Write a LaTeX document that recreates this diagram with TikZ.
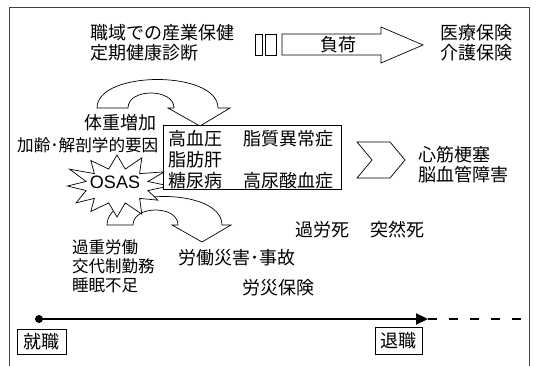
\documentclass[tikz,border=0pt]{standalone}
\usepackage{fontspec}
\newfontfamily\cjk{Noto Sans CJK JP}
\newfontfamily\latf{Liberation Sans}
\usetikzlibrary{arrows.meta}
\begin{document}
\begin{tikzpicture}[x=1pt,y=-1pt,
  txt/.style={inner sep=0pt, anchor=west, font=\cjk\fontsize{18}{22}\selectfont},
  txts/.style={txt, font=\cjk\fontsize{16.5}{20}\selectfont},
  blk/.style={draw=black, line width=0.7pt, fill=white, line join=miter},
  lbl/.style={draw=black, line width=0.7pt, inner sep=0pt, minimum width=48pt, minimum height=26pt, anchor=north west, font=\cjk\fontsize{18}{22}\selectfont},
  tl/.style={line width=2.2pt}]
\useasboundingbox (0,0) rectangle (537,366);
% frame
\draw[black!75, line width=0.8pt] (9,367) -- (9,7) -- (529,7) -- (529,367);

% top texts
\node[txt] (sangyo) at (90,33) {職域での産業保健};
\node[txt] (kenshin) at (90,53) {定期健康診断};
\node[txt] (iryo) at (440,33) {医療保険};
\node[txt] (kaigo) at (440,53) {介護保険};

% load arrow
\draw[blk] (255,34) rectangle (262,55);
\draw[blk] (265,34) rectangle (276,55);
\draw[blk] (282,34) -- (381,34) -- (381,27) -- (423,45) -- (381,63) -- (381,55) -- (282,55) -- cycle;
\node[txt, anchor=center] (fuka) at (338,45) {負荷};

% upper curved arrow
\draw[blk] (97,108) .. controls (97,70) and (218,70) .. (218,108) -- (230,108) -- (200,126) -- (168,108) -- (174,108)
  .. controls (174,88) and (128,88) .. (128,108) -- cycle;

% lower curved arrow
\draw[blk] (107,225) .. controls (107,187) and (222,187) .. (222,225) -- (231,225) -- (202,242) -- (172,225) -- (178,225)
  .. controls (178,205) and (133,205) .. (133,225) -- cycle;

% starburst
\draw[blk] plot[samples at={0,15,...,345}]
  ({117+(mod(\x,30)==0 ? 51*(1+0.08*sin(3*\x+20)) : 32)*cos(\x)},
   {186-(mod(\x,30)==0 ? 31*(1+0.1*cos(5*\x)) : 17.5)*sin(\x)}) -- cycle;
\node[inner sep=0pt, font=\latf\fontsize{18}{22}\selectfont] (osas) at (115,182) {OSAS};

% left texts
\node[txt, anchor=east] (taiju) at (157,123) {体重増加};
\node[txt, anchor=west, font=\cjk\fontsize{16.6}{20}\selectfont] (karei) at (17,145) {加齢･解剖学的要因};

% disease box
\node[draw=black, line width=0.7pt, fill=white, inner sep=0pt, minimum width=178pt, minimum height=64pt, anchor=north west] (box) at (163,125) {};
\node[txt] (r1a) at (168,139) {高血圧};
\node[txt] (r1b) at (243,139) {脂質異常症};
\node[txt] (r2a) at (168,160) {脂肪肝};
\node[txt] (r3a) at (168,181) {糖尿病};
\node[txt] (r3b) at (243,181) {高尿酸血症};

% chevron
\draw[blk] (357,142) -- (390,142) -- (405,160) -- (390,178) -- (357,178) -- (372,160) -- cycle;
\node[txt] (shin) at (418,155) {心筋梗塞};
\node[txt] (noke) at (418,175) {脳血管障害};

% lower texts
\node[txts] (kajuu) at (72,247) {過重労働};
\node[txts] (kotai) at (72,266) {交代制勤務};
\node[txts] (suimin) at (72,285) {睡眠不足};
\node[txt] (saigai) at (178,258) {労働災害･事故};
\node[txt] (karoshi) at (295,230) {過労死};
\node[txt] (totsu) at (370,230) {突然死};
\node[txt] (rosai) at (242,288) {労災保険};

% timeline
\node[circle, fill=black, inner sep=0pt, minimum size=8pt] (start) at (39,319) {};
\coordinate (tip) at (428,319);
\coordinate (dend) at (522,319);
\draw[tl, -{Triangle[length=12pt,width=11pt]}] (start.center) -- (tip);
\draw[tl, dash pattern=on 9pt off 12pt] (tip) -- (dend);
\node[lbl, minimum width=49pt, minimum height=25pt] (shushoku) at (17,329) {就職};
\node[lbl, minimum width=47pt, minimum height=27pt] (taishoku) at (375,327) {退職};
\end{tikzpicture}
\end{document}
